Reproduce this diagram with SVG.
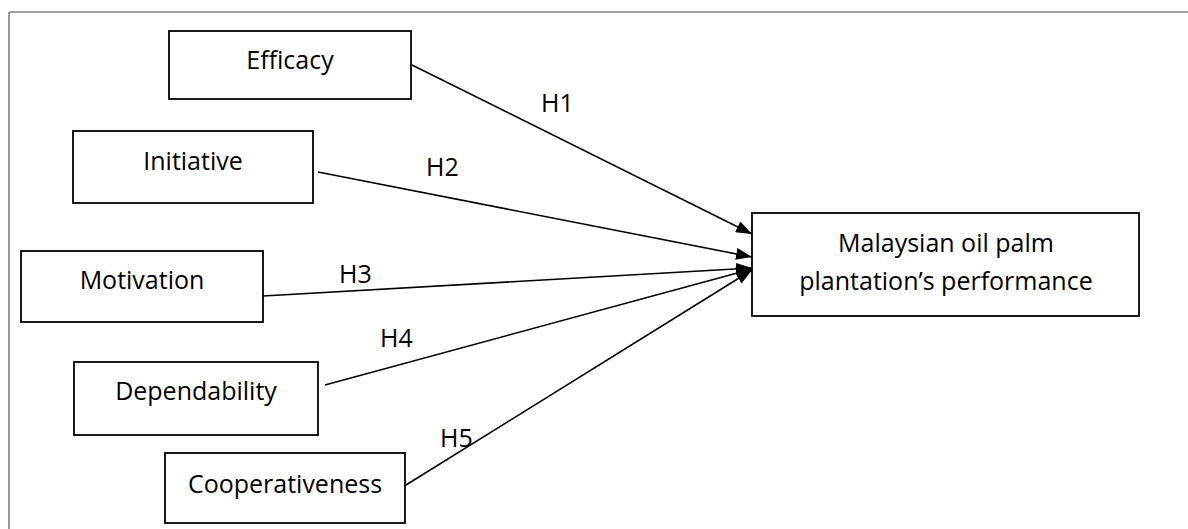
<svg xmlns="http://www.w3.org/2000/svg" width="1188" height="529" viewBox="0 0 1188 529">
<style>
.box{fill:#fff;stroke:#000;stroke-width:1.8}
.t{font-family:"Open Sans","Liberation Sans",Arial,sans-serif;font-size:25px;fill:#000;text-anchor:middle}
.lbl{font-family:"Open Sans","Liberation Sans",Arial,sans-serif;font-size:25px;fill:#000}
.c{stroke:#000;stroke-width:1.6;fill:none;marker-end:url(#ah)}
</style>
<defs>
<marker id="ah" viewBox="0 0 16 12" refX="16" refY="6" markerWidth="16" markerHeight="12" markerUnits="userSpaceOnUse" orient="auto">
<path d="M0,0 L16,6 L0,12 Z" fill="#000"/>
</marker>
</defs>
<rect width="1188" height="529" fill="#fff"/>
<g id="frame" stroke="#808080" stroke-width="1.6">
<line x1="9" y1="12" x2="1188" y2="12"/>
<line x1="9" y1="12" x2="9" y2="529"/>
</g>
<g id="connectors">
<line class="c" x1="412" y1="65" x2="752" y2="234"/>
<line class="c" x1="318" y1="172" x2="752" y2="257"/>
<line class="c" x1="263" y1="296" x2="752" y2="268"/>
<line class="c" x1="325" y1="385" x2="752" y2="269"/>
<line class="c" x1="406" y1="485" x2="752" y2="270"/>
<text class="lbl" x="541" y="112">H1</text>
<text class="lbl" x="426" y="176">H2</text>
<text class="lbl" x="339" y="283">H3</text>
<text class="lbl" x="380" y="347">H4</text>
<text class="lbl" x="440" y="447">H5</text>
</g>
<g id="efficacy"><rect class="box" x="169" y="31" width="242" height="68"/><text class="t" x="290" y="69">Efficacy</text></g>
<g id="initiative"><rect class="box" x="73" y="131" width="240" height="72"/><text class="t" x="193" y="170">Initiative</text></g>
<g id="motivation"><rect class="box" x="21" y="251" width="242" height="71"/><text class="t" x="142" y="289">Motivation</text></g>
<g id="dependability"><rect class="box" x="74" y="362" width="244" height="73"/><text class="t" x="196" y="400">Dependability</text></g>
<g id="cooperativeness"><rect class="box" x="165" y="453" width="240" height="70"/><text class="t" x="285" y="493">Cooperativeness</text></g>
<g id="performance"><rect class="box" x="752" y="213" width="387" height="103"/><text class="t" x="946" y="252">Malaysian oil palm</text><text class="t" x="946" y="290">plantation’s performance</text></g>
</svg>
